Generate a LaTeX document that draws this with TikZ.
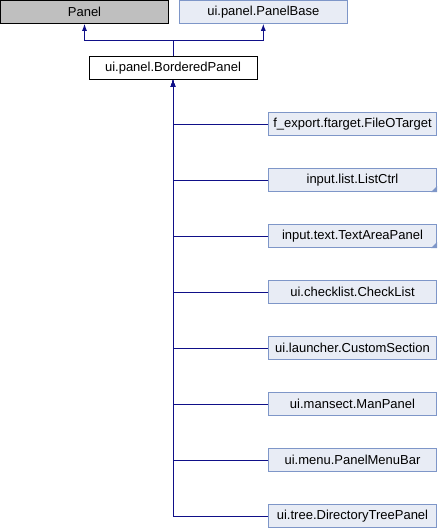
\documentclass[tikz,border=0pt]{standalone}
\usepackage{fontspec}
\setmainfont{Liberation Sans}
\usetikzlibrary{arrows.meta}
\definecolor{edgeblue}{HTML}{0F0F88}
\definecolor{boxfill}{HTML}{E8ECF5}
\definecolor{boxline}{HTML}{7E96C8}
\definecolor{grayfill}{HTML}{BFBFBF}
\begin{document}
\begin{tikzpicture}[x=1pt,y=-1pt,
  cls/.style={draw=black,line width=1pt,minimum width=168pt,minimum height=23pt,inner sep=0pt,
    font=\fontsize{13}{15}\selectfont},
  ext/.style={cls,fill=boxfill,draw=boxline},
  inh/.style={draw=edgeblue,line width=1pt,-{Latex[length=7pt,width=5pt]}},
  more/.style={fill=boxline}
]
\useasboundingbox (0,0) rectangle (437,528);
\node[cls,fill=grayfill] (panel) at (84.5,11.8) {Panel};
\node[ext] (pbase) at (263.3,11.8) {ui.panel.PanelBase};
\node[cls,fill=white] (bp) at (173,67.7) {ui.panel.BorderedPanel};
\coordinate (j) at (173,40.3);
\draw[inh] (bp.north) -- (j) -| (panel.south);
\draw[inh] (j) -| (pbase.south);
\foreach \nm/\txt/\yy in {c1/f\_export.ftarget.FileOTarget/124,
  c2/input.list.ListCtrl/180,
  c3/input.text.TextAreaPanel/236,
  c4/ui.checklist.CheckList/292,
  c5/ui.launcher.CustomSection/348,
  c6/ui.mansect.ManPanel/404,
  c7/ui.menu.PanelMenuBar/460,
  c8/ui.tree.DirectoryTreePanel/516}{
  \node[ext] (\nm) at (352.5,\yy) {\txt};
  \draw[inh] (\nm.west) -| (bp.south);
}
\fill[more] (c2.south east) -- ++(-6,0) -- ++(6,-6) -- cycle;
\fill[more] (c3.south east) -- ++(-6,0) -- ++(6,-6) -- cycle;
\end{tikzpicture}
\end{document}
